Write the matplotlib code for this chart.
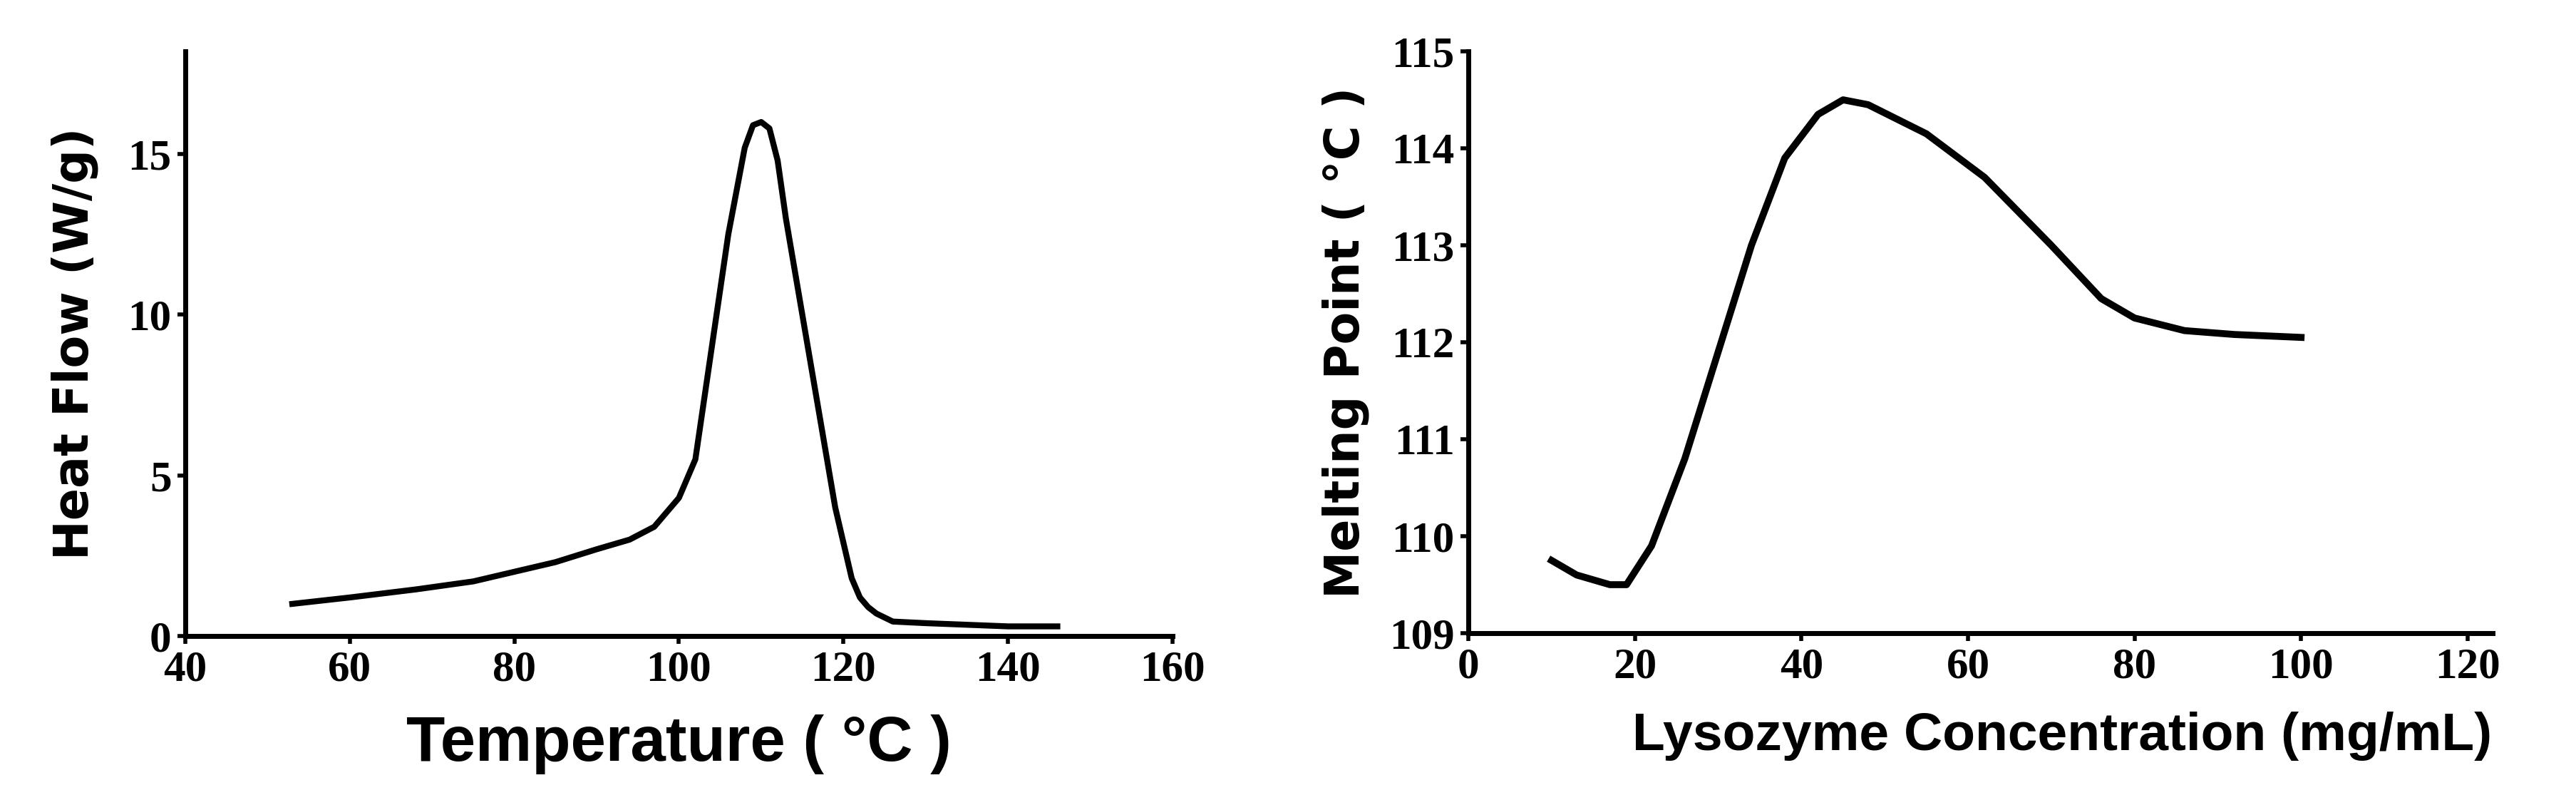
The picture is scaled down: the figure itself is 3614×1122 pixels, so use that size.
import matplotlib.pyplot as plt
import numpy as np

# DSC curve
temp = [53, 60, 68, 75, 80, 85, 90, 94, 97, 100, 102, 104, 106, 108, 109, 110, 111, 112,
        113, 115, 117, 119, 121, 122, 123, 124, 126, 130, 135, 140, 146]
heat_flow = [1.0, 1.2, 1.45, 1.7, 2.0, 2.3, 2.7, 3.0, 3.4, 4.3, 5.5, 9.0, 12.5, 15.2, 15.9, 16.0,
             15.8, 14.8, 13.0, 10.0, 7.0, 4.0, 1.8, 1.2, 0.9, 0.7, 0.45, 0.4, 0.35, 0.3, 0.3]

# melting point vs concentration
conc = [10, 13, 17, 19, 22, 26, 30, 34, 38, 42, 45, 48, 55, 62, 70, 76, 80, 86, 92, 100]
melt = [109.75, 109.6, 109.5, 109.5, 109.9, 110.8, 111.9, 113.0, 113.9, 114.35, 114.5, 114.45,
        114.15, 113.7, 113.0, 112.45, 112.25, 112.12, 112.08, 112.05]

tick_font = dict(family='Liberation Serif', weight='bold', size=44)
ylab_font = dict(family='DejaVu Sans', weight='bold', size=48)

fig = plt.figure(figsize=(36.14, 11.22), dpi=100)
ax1 = fig.add_axes([260 / 3614, 1 - 892 / 1122, 1385 / 3614, 820 / 1122])
ax2 = fig.add_axes([2060 / 3614, 1 - 888 / 1122, 1437 / 3614, 816 / 1122])

ax1.plot(temp, heat_flow, color='black', lw=6, solid_joinstyle='round')
ax1.set_xlim(40, 160)
ax1.set_ylim(0, 18.2)
ax1.set_xticks(range(40, 161, 20))
ax1.set_yticks([0, 5, 10, 15])
ax1.set_xlabel('Temperature ( °C )', family='Liberation Sans', weight='bold', size=64, labelpad=25)
ax1.set_ylabel('Heat Flow (W/g)', fontdict=ylab_font, labelpad=30)

ax2.plot(conc, melt, color='black', lw=7, solid_joinstyle='round')
ax2.set_xlim(0, 123)
ax2.set_ylim(109, 115)
ax2.set_xticks(range(0, 121, 20))
ax2.set_yticks(range(109, 116))
ax2.set_xlabel('Lysozyme Concentration (mg/mL)', family='Liberation Sans', weight='bold',
               size=54, labelpad=25, x=0.58)
ax2.set_ylabel('Melting Point ( °C )', fontdict=ylab_font, labelpad=20)

for ax in (ax1, ax2):
    for s in ('top', 'right'):
        ax.spines[s].set_visible(False)
    for s in ('left', 'bottom'):
        ax.spines[s].set_linewidth(5)
    ax.tick_params(width=4, length=8, direction='out', pad=6)
    for lab in ax.get_xticklabels() + ax.get_yticklabels():
        lab.set_fontproperties(tick_font)

fig.savefig('out.png', dpi=100, facecolor='white')
